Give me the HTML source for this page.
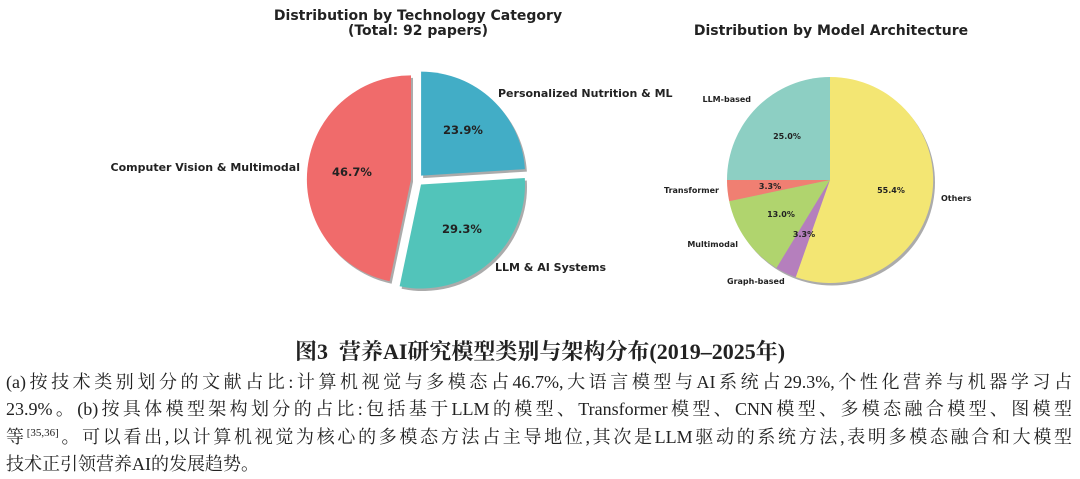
<!DOCTYPE html>
<html><head><meta charset="utf-8"><style>
body{margin:0;width:1080px;height:479px;background:#fff;overflow:hidden;position:relative}
svg{position:absolute;left:0;top:0}
.cap{position:absolute;left:0;width:1080px;text-align:center;top:335px;font:bold 22px "Liberation Serif","Noto Serif CJK SC",serif;color:#222}
.ln{position:absolute;left:6px;width:1066px;font:18px "Liberation Serif","Noto Serif CJK SC",serif;color:#222;text-align:justify;text-align-last:justify;white-space:nowrap;line-height:20px}
.ln.last{text-align-last:left}
sup{font-size:11px;vertical-align:7px;line-height:0}
</style></head><body>
<svg width="1080" height="330" font-family="DejaVu Sans, sans-serif" font-weight="bold" fill="#222">
<text x="418" y="20" font-size="14" text-anchor="middle">Distribution by Technology Category</text>
<text x="418" y="35" font-size="14" text-anchor="middle">(Total: 92 papers)</text>
<text x="831" y="35" font-size="14" text-anchor="middle">Distribution by Model Architecture</text>
<g transform="translate(2,2.5)" fill="#888" opacity="0.7">
<path d="M411,179.4 L411,75.4 A104,104 0 0 0 389.6,281.2 Z"/>
<path d="M421,184.5 L399.6,286.3 A104,104 0 0 0 524.8,178 Z"/>
<path d="M421.1,175.6 L524.9,169.1 A104,104 0 0 0 421.1,71.6 Z"/>
<circle cx="830" cy="180" r="103"/>
</g>
<path d="M411,179.4 L411,75.4 A104,104 0 0 0 389.6,281.2 Z" fill="#f06b6b"/>
<path d="M421,184.5 L399.6,286.3 A104,104 0 0 0 524.8,178 Z" fill="#52c4ba"/>
<path d="M421.1,175.6 L524.9,169.1 A104,104 0 0 0 421.1,71.6 Z" fill="#42adc6"/>
<g font-size="11.5" text-anchor="middle">
<text x="352" y="176">46.7%</text>
<text x="463" y="134">23.9%</text>
<text x="462" y="233">29.3%</text>
</g>
<g font-size="11">
<text x="300" y="171" text-anchor="end">Computer Vision &amp; Multimodal</text>
<text x="498" y="97">Personalized Nutrition &amp; ML</text>
<text x="495" y="271">LLM &amp; AI Systems</text>
</g>
<path d="M830,180 L830,77 A103,103 0 0 0 727,180 Z" fill="#8dcfc3"/>
<path d="M830,180 L727,180 A103,103 0 0 0 729.2,201.2 Z" fill="#f07f72"/>
<path d="M830,180 L729.2,201.2 A103,103 0 0 0 776.5,268 Z" fill="#b0d46e"/>
<path d="M830,180 L776.5,268 A103,103 0 0 0 795.8,277.1 Z" fill="#b57fbd"/>
<path d="M830,180 L795.8,277.1 A103,103 0 1 0 830,77 Z" fill="#f3e673"/>
<g font-size="8" text-anchor="middle">
<text x="787" y="139">25.0%</text>
<text x="770" y="189">3.3%</text>
<text x="781" y="217">13.0%</text>
<text x="804" y="237">3.3%</text>
<text x="891" y="193">55.4%</text>
</g>
<g font-size="8">
<text x="751" y="102" text-anchor="end">LLM-based</text>
<text x="719" y="193" text-anchor="end">Transformer</text>
<text x="738" y="247" text-anchor="end">Multimodal</text>
<text x="727" y="284">Graph-based</text>
<text x="941" y="201">Others</text>
</g>
</svg>
<div class="cap">图3&nbsp; 营养AI研究模型类别与架构分布(2019–2025年)</div>
<div class="ln" style="top:372px">(a)按技术类别划分的文献占比:计算机视觉与多模态占46.7%,大语言模型与AI系统占29.3%,个性化营养与机器学习占</div>
<div class="ln" style="top:399px">23.9%。(b)按具体模型架构划分的占比:包括基于LLM的模型、Transformer模型、CNN模型、多模态融合模型、图模型</div>
<div class="ln" style="top:427px">等<sup>[35,36]</sup>。可以看出,以计算机视觉为核心的多模态方法占主导地位,其次是LLM驱动的系统方法,表明多模态融合和大模型</div>
<div class="ln last" style="top:454px">技术正引领营养AI的发展趋势。</div>
</body></html>
